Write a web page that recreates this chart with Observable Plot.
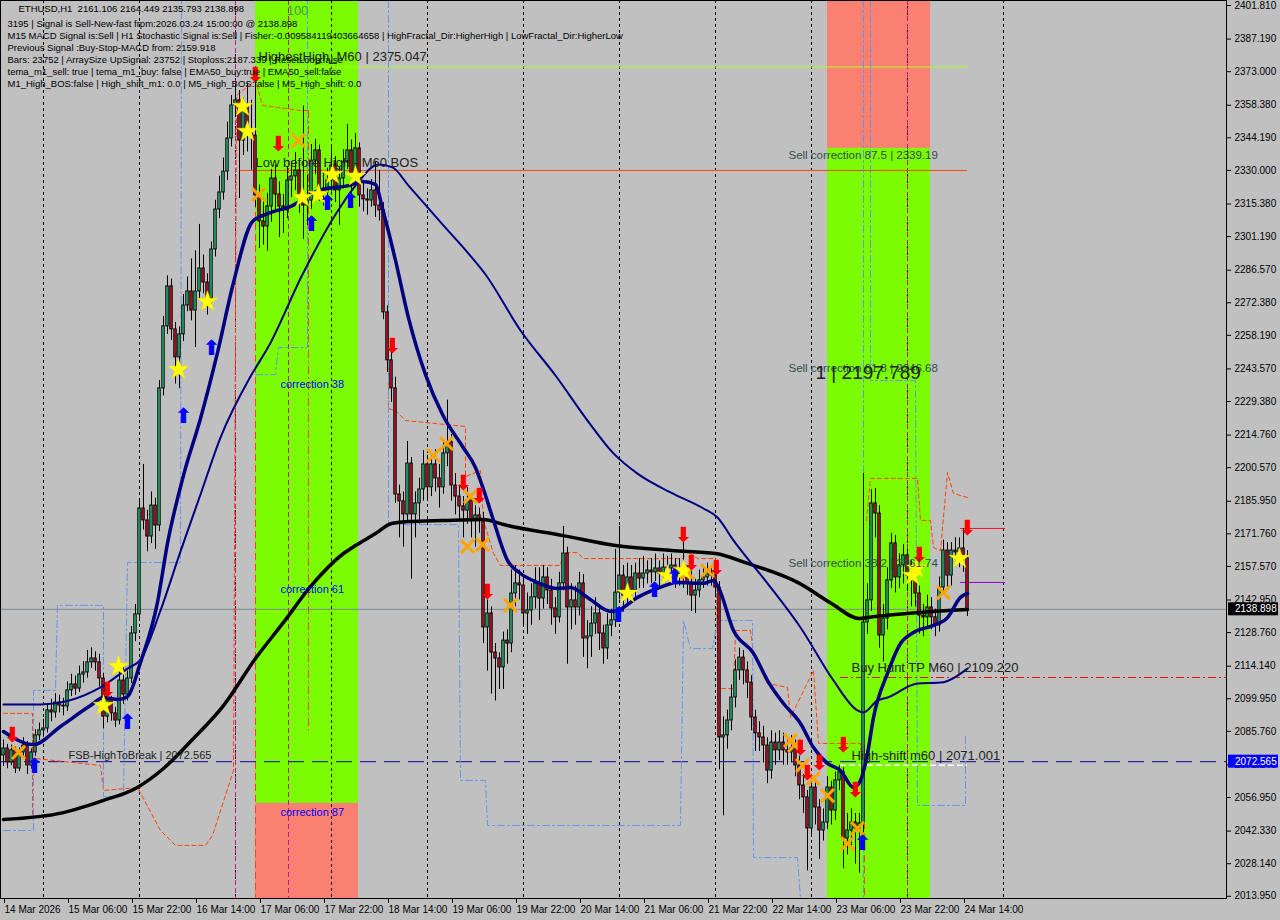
<!DOCTYPE html>
<html><head><meta charset="utf-8">
<script src="https://cdn.jsdelivr.net/npm/d3@7"></script>
<script src="https://cdn.jsdelivr.net/npm/@observablehq/plot@0.6"></script>
<style>
html,body{margin:0;padding:0;background:#c0c0c0;}
#chart{width:1280px;height:920px;overflow:hidden;}
</style></head><body><div id="chart"></div>
<script>
// ---------- DATA ----------
const firstBar = "2026-03-14T14:00:00Z";   // H1 bars, one per hour
const firstOpen = 2075.3;
const closes = [
2078.3,2072.2,2077.5,2069.6,2076.6,2079.6,2070.9,2076.6,2084.0,2086.2,
2087.0,2094.9,2094.0,2098.3,2097.0,2096.6,2103.6,2106.2,2104.4,2110.5,
2111.4,2115.8,2117.5,2115.8,2108.8,2092.2,2099.2,2093.6,2090.5,2107.9,
2101.8,2108.8,2128.4,2136.7,2182.8,2177.6,2170.6,2184.1,2175.4,2235.1,
2262.1,2279.5,2260.8,2248.6,2258.6,2271.2,2277.3,2269.0,2277.3,2287.3,
2281.2,2274.3,2295.6,2313.0,2320.4,2329.5,2343.9,2358.3,2360.5,2343.0,
2358.3,2347.4,2345.2,2319.1,2307.8,2305.6,2314.3,2326.5,2319.5,2314.3,
2312.6,2325.6,2327.4,2330.0,2318.2,2314.7,2316.9,2334.3,2338.7,2321.7,
2320.4,2325.6,2332.2,2321.3,2326.5,2333.5,2338.7,2327.4,2339.6,2319.1,
2317.4,2316.9,2321.3,2314.7,2312.6,2268.2,2247.3,2235.1,2188.9,2185.9,
2180.2,2202.4,2180.2,2185.0,2191.1,2202.0,2192.0,2202.0,2195.9,2192.0,
2206.8,2211.6,2192.8,2188.0,2183.7,2181.9,2186.3,2177.6,2179.8,2177.6,
2131.0,2137.1,2120.1,2117.5,2113.6,2125.3,2124.0,2145.8,2150.2,2149.3,
2137.1,2138.4,2144.1,2150.2,2143.6,2152.8,2147.1,2139.3,2135.4,2150.2,
2163.2,2139.7,2142.8,2139.7,2150.2,2126.2,2127.1,2132.7,2137.1,2128.4,
2121.9,2131.9,2134.1,2146.2,2153.6,2144.9,2152.8,2147.1,2154.5,2152.3,
2154.5,2155.8,2155.0,2156.7,2154.5,2157.1,2156.7,2158.0,2152.8,2155.8,
2152.8,2150.2,2144.9,2147.1,2151.5,2152.8,2154.5,2153.6,2148.4,2083.1,
2084.0,2090.5,2100.5,2112.3,2117.9,2112.3,2107.0,2091.8,2084.9,2083.1,
2079.6,2068.7,2080.9,2077.5,2080.9,2077.5,2076.6,2078.3,2070.9,2062.2,
2057.0,2043.5,2061.3,2052.6,2042.6,2046.1,2061.3,2051.3,2064.4,2067.9,
2039.1,2042.6,2046.1,2043.5,2045.7,2133.2,2142.8,2185.0,2180.6,2127.5,
2134.9,2151.5,2167.6,2152.8,2158.0,2162.4,2153.6,2151.5,2145.8,2136.2,
2135.4,2139.7,2135.4,2131.9,2148.4,2164.5,2153.6,2164.5,2163.7,2165.4,
2161.106,2138.898];
const highs = [
2082.0,2080.1,2079.8,2078.9,2078.6,2083.0,2081.4,2078.2,2086.5,2089.4,
2091.0,2097.7,2099.8,2102.2,2101.5,2100.2,2107.3,2110.6,2109.8,2114.2,
2116.1,2121.0,2122.1,2120.4,2119.3,2111.0,2103.4,2101.0,2096.2,2111.8,
2113.6,2112.0,2131.4,2141.0,2187.0,2202.0,2182.0,2190.0,2187.3,2238.5,
2266.4,2284.1,2282.7,2263.8,2261.9,2276.0,2283.6,2291.5,2295.0,2306.5,
2293.2,2285.0,2298.8,2317.0,2327.5,2335.4,2351.0,2362.6,2367.3,2364.8,
2361.5,2368.0,2360.5,2375.047,2323.6,2318.0,2320.0,2330.4,2332.2,2325.0,
2319.5,2331.5,2333.8,2337.8,2334.0,2358.0,2328.0,2341.3,2343.5,2341.0,
2328.8,2331.0,2340.0,2336.1,2331.5,2339.0,2350.0,2343.2,2346.0,2342.0,
2325.0,2322.0,2326.0,2334.0,2330.0,2316.0,2271.0,2251.0,2240.0,2193.0,
2190.0,2212.0,2205.0,2190.0,2196.0,2208.0,2206.0,2207.0,2208.5,2202.0,
2212.0,2230.0,2215.0,2198.0,2193.0,2188.0,2192.0,2189.0,2184.0,2183.0,
2181.0,2143.0,2140.0,2124.0,2120.0,2129.0,2130.0,2156.0,2158.0,2156.0,
2153.0,2146.0,2150.0,2157.0,2157.0,2158.0,2157.0,2152.0,2144.0,2155.0,
2175.0,2166.0,2150.0,2149.0,2155.0,2154.0,2134.0,2140.0,2144.0,2141.0,
2132.0,2137.0,2139.0,2165.0,2175.0,2158.0,2159.0,2158.0,2159.0,2161.0,
2162.0,2160.0,2161.0,2163.0,2160.0,2163.0,2162.0,2163.0,2161.0,2161.0,
2168.0,2158.0,2156.0,2152.0,2156.0,2158.0,2159.0,2158.0,2157.0,2151.0,
2092.0,2095.0,2106.0,2117.0,2122.0,2121.0,2116.0,2110.0,2095.0,2090.0,
2088.0,2083.0,2086.0,2085.0,2086.0,2085.0,2083.0,2084.0,2082.0,2075.0,
2067.0,2060.0,2066.0,2064.0,2056.0,2052.0,2066.0,2064.0,2068.0,2071.0,
2070.0,2050.0,2052.0,2050.0,2050.0,2198.0,2150.0,2191.0,2191.5,2184.0,
2141.0,2157.0,2172.0,2171.0,2163.0,2167.0,2165.0,2160.0,2155.0,2149.0,
2141.0,2145.0,2144.0,2139.0,2153.0,2169.0,2168.0,2168.0,2170.0,2170.0,
2174.0,2164.449];
const lows = [
2070.5,2069.5,2070.8,2067.4,2068.2,2074.8,2067.0,2069.3,2074.9,2081.7,
2083.2,2085.1,2089.9,2091.6,2093.8,2092.5,2094.4,2100.9,2101.5,2102.7,
2106.8,2108.9,2113.2,2112.0,2105.1,2086.9,2089.5,2090.2,2087.4,2088.6,
2097.5,2099.0,2106.6,2124.8,2134.5,2173.4,2164.0,2167.5,2165.0,2172.8,
2231.8,2258.6,2256.0,2237.0,2235.0,2255.5,2268.5,2264.5,2252.9,2273.8,
2276.3,2267.0,2271.5,2292.3,2309.0,2317.1,2325.6,2340.2,2353.0,2317.8,
2336.5,2338.0,2330.0,2314.0,2296.0,2297.5,2294.8,2307.5,2313.0,2300.8,
2302.6,2309.0,2318.2,2321.3,2311.3,2300.0,2306.0,2313.0,2328.2,2316.5,
2314.5,2315.2,2320.6,2316.0,2306.0,2322.0,2330.5,2320.0,2325.0,2314.0,
2312.0,2310.5,2314.0,2309.5,2308.0,2265.0,2242.0,2229.0,2185.0,2170.0,
2166.0,2177.0,2152.0,2170.0,2176.0,2186.0,2186.0,2188.0,2190.0,2183.0,
2189.0,2201.0,2186.0,2180.0,2177.0,2170.0,2176.0,2170.0,2166.0,2172.0,
2124.0,2112.0,2102.0,2099.0,2104.0,2104.0,2115.0,2120.0,2140.0,2143.0,
2131.0,2128.0,2132.0,2139.0,2134.0,2139.0,2141.0,2132.0,2128.0,2133.0,
2147.0,2115.0,2130.0,2132.0,2136.0,2118.0,2113.0,2118.0,2128.0,2121.0,
2115.0,2117.0,2127.0,2131.0,2143.0,2138.0,2141.0,2142.0,2144.0,2148.0,
2148.0,2150.0,2150.0,2151.0,2149.0,2151.0,2152.0,2152.0,2148.0,2149.0,
2148.0,2145.0,2138.0,2137.0,2144.0,2148.0,2149.0,2149.0,2144.0,2069.0,
2049.0,2078.0,2086.0,2096.0,2108.0,2106.0,2100.0,2086.0,2077.0,2077.0,
2072.0,2063.0,2065.0,2071.0,2073.0,2071.0,2071.0,2072.0,2066.0,2056.0,
2050.0,2025.0,2040.0,2045.0,2030.0,2038.0,2043.0,2045.0,2047.0,2060.0,
2026.0,2032.0,2036.0,2028.0,2024.0,2041.0,2128.0,2138.0,2170.0,2122.0,
2116.0,2130.0,2148.0,2146.0,2148.0,2150.0,2147.0,2140.0,2140.0,2128.0,
2127.0,2131.0,2130.0,2127.0,2129.0,2145.0,2148.0,2149.0,2158.0,2157.0,
2155.0,2135.793];

// moving averages: [bar index, price]
const maSlow = [[0,2047.4],[15,2050.4],[25,2055.7],[33,2060.9],[40,2069.6],[47,2081.8],[55,2097.0],[63,2117.5],[70,2133.2],[77,2149.3],[85,2163.2],[88,2166.7],[93,2171.9],[97,2176.3],[101,2177.1],[110,2177.6],[120,2178.0],[125,2175.8],[140,2171.0],[153,2166.7],[167,2164.5],[178,2163.2],[186,2158.9],[199,2150.2],[207,2141.4],[214,2134.9],[218,2135.8],[226,2137.1],[241,2138.8]];
const maMid = [[0,2097.5],[9.25,2097.5],[24.25,2104.9],[31,2113.1],[34.25,2117.0],[39.25,2138.4],[44.25,2164.1],[49.25,2188.9],[54.25,2213.7],[61.75,2240.3],[66.25,2253.3],[74.75,2284.7],[83,2310.8],[88,2323.4],[93.75,2332.6],[97.25,2331.3],[101.25,2323.4],[109.75,2306.5],[116.25,2293.8],[120.5,2284.7],[129.25,2260.3],[138,2240.7],[146,2221.1],[152.5,2206.8],[158.5,2198.0],[166.75,2189.8],[175,2182.8],[178.5,2178.9],[182.5,2168.9],[191,2150.2],[199.25,2131.0],[207.5,2107.9],[213.5,2094.9],[215,2094.0],[218.5,2099.2],[221,2100.5],[228.5,2106.6],[234.25,2107.0],[241,2113.1]];
const maFast = [[0,2085.7],[7.5,2080.0],[14.25,2087.9],[21.75,2097.0],[25,2100.5],[28.75,2099.6],[31,2100.9],[34.25,2115.8],[38.5,2141.9],[41,2167.6],[45,2197.2],[49.25,2222.0],[53.5,2250.7],[57.5,2281.2],[62.25,2307.8],[66.25,2311.3],[72.25,2314.7],[78.75,2321.3],[86.25,2323.4],[89.75,2325.2],[93,2323.9],[94.75,2313.4],[98,2290.8],[101.25,2265.8],[105.5,2241.1],[109.75,2223.7],[114.75,2209.8],[118,2200.6],[120,2191.1],[122.5,2177.6],[126,2160.2],[129.25,2154.5],[133.5,2150.6],[138.5,2148.0],[141.75,2148.4],[146,2144.1],[151.75,2138.0],[153.5,2138.4],[158.5,2144.1],[163.5,2148.0],[168.5,2150.6],[175,2150.2],[177.5,2151.5],[178.75,2148.4],[182.5,2129.7],[187.5,2119.7],[191,2107.9],[195,2097.9],[199.25,2089.2],[202.5,2078.7],[206,2071.8],[209.25,2068.7],[212.5,2061.3],[214.25,2064.4],[216,2076.1],[217.5,2091.8],[221,2111.0],[224.25,2124.0],[227.5,2128.8],[232.5,2131.9],[236,2135.3],[239.25,2144.1],[241,2145.8]];

// trailing step lines
const orangeSteps = [
 [[0,2093.6],[7.25,2093.6],[7.25,2048.3]],
 [[8.25,2073.9],[24.25,2070.9],[25,2060.0],[33.5,2061.3],[39.25,2042.6],[43,2036.1],[50.5,2036.1],[52.25,2040.4],[57.5,2068.7],[58.25,2362.6],[63,2369.2],[64.75,2358.3],[74.25,2356.1],[76.25,2356.1]],
 [[96.25,2269.0],[96.25,2226.3],[98,2225.5],[100.5,2221.1],[115.5,2218.5],[115.5,2196.7],[119.25,2199.3],[120,2177.6],[122.5,2163.2],[124.25,2158.0],[139.25,2158.0],[140,2163.6],[143.5,2163.6],[145,2161.0],[170,2161.0],[170.5,2164.5],[173.5,2161.0],[178,2161.0],[178.75,2104.4],[182.5,2104.4],[183,2129.7],[186.75,2129.7],[187.5,2119.7],[191,2106.6],[196,2104.9],[196.75,2091.8],[202.5,2112.3],[203.75,2080.5],[214.25,2080.5],[215,2052.6]],
 [[215.75,2177.6],[216.75,2195.9],[228.5,2195.9],[229.25,2177.6],[231.75,2177.6],[232.5,2165.8],[234.25,2164.5],[236,2198.5],[237.5,2189.3],[241,2187.6]]
];
const blueSteps = [
 [[0,2042.6],[7.5,2042.6],[7.5,2103.6],[13,2103.6],[13.5,2140.6],[25,2140.6],[25,2057.4],[30,2057.4],[31,2159.3],[44.25,2159.3],[44.5,2404]],
 [[63,2241.1],[68,2241.1],[68.75,2252.9],[76,2252.9],[76,2404]],
 [[96.25,2404],[96.25,2175.8],[113.75,2175.8],[114.25,2064.4],[120.5,2064.4],[121,2044.8],[169.25,2044.8],[170,2134.0],[171.75,2121.8],[177.25,2121.8],[178.5,2134.0],[187.25,2134.0],[187.5,2030.8],[198.5,2030.8],[199.25,2013.0]],
 [[215,2404],[215,2013]],
 [[216.75,2404],[216.75,2238.5],[228,2238.5],[228.5,2053.5],[240.5,2053.5],[240.5,2084.0]]
];

// signal markers [bar index, price]
const stars = [[59.75,2357.8],[61,2346.9],[43.75,2243.3],[51,2272.9],[28.75,2114.0],[25,2097.0],[74.75,2318.2],[78.75,2319.5],[82.25,2328.2],[88,2327.4],[156,2145.8],[166,2153.6],[170,2155.8],[227.25,2153.6],[228.25,2156.7],[239,2161.0]];
const crosses = [[3.75,2076.6],[63.75,2319.5],[73.75,2343.0],[107.5,2205.9],[110.75,2211.1],[116.75,2188.0],[116,2166.3],[119.75,2167.1],[126.75,2140.6],[171,2154.9],[176,2155.8],[196.75,2081.8],[197.75,2079.6],[199.75,2070.9],[202.5,2065.2],[206,2057.8],[211,2036.9],[213.5,2043.5],[235,2146.2]];
const sellArrows = [[2.25,2084.0],[26,2103.6],[63,2371.3],[68.75,2341.3],[97.25,2253.3],[115,2193.7],[119,2188.0],[121,2146.2],[170,2171.0],[172,2158.9],[178.25,2156.7],[199.25,2078.3],[201,2067.4],[204,2071.8],[210,2079.6],[213,2060.0],[229,2162.3],[241,2174.1]];
const buyArrows = [[7.75,2070.5],[31,2089.6],[45,2222.9],[52,2252.5],[77,2306.5],[81,2315.6],[86.75,2316.5],[153.75,2136.2],[162.75,2147.1],[167.75,2152.7],[214.75,2036.9]];

// zones [from bar, to bar, split price]
const zoneBuy = [63, 88.75, 2054.4];
const zoneSell = [206, 231.75, 2339.6];

// levels
const highestHigh = 2375.047, lowBeforeHigh = 2330.0, buyHuntTP = 2109.22, highShift = 2071.001, fsbHigh = 2072.565, lastPrice = 2138.898;
const shortRed = 2174.1, shortPurple = 2150.6;

const yTicks = [2401.810,2387.190,2373.000,2358.380,2344.190,2330.000,2315.380,2301.190,2286.570,2272.380,2258.190,2243.570,2229.380,2214.760,2200.570,2185.950,2171.760,2157.570,2142.950,2128.760,2114.140,2099.950,2085.760,2071.140,2056.950,2042.330,2028.140,2013.950];
const xTickTimes = ["2026-03-14T14:00Z","2026-03-15T06:00Z","2026-03-15T22:00Z","2026-03-16T14:00Z","2026-03-17T06:00Z","2026-03-17T22:00Z","2026-03-18T14:00Z","2026-03-19T06:00Z","2026-03-19T22:00Z","2026-03-20T14:00Z","2026-03-21T06:00Z","2026-03-21T22:00Z","2026-03-22T14:00Z","2026-03-23T06:00Z","2026-03-23T22:00Z","2026-03-24T14:00Z"];
const xTickLabels = ["14 Mar 2026","15 Mar 06:00","15 Mar 22:00","16 Mar 14:00","17 Mar 06:00","17 Mar 22:00","18 Mar 14:00","19 Mar 06:00","19 Mar 22:00","20 Mar 14:00","21 Mar 06:00","21 Mar 22:00","22 Mar 14:00","23 Mar 06:00","23 Mar 22:00","24 Mar 14:00"];
const daySeparators = ["2026-03-15","2026-03-16","2026-03-17","2026-03-18","2026-03-19","2026-03-20","2026-03-21","2026-03-22","2026-03-23","2026-03-24","2026-03-25"];

const headerTitle = "ETHUSD,H1  2161.106 2164.449 2135.793 2138.898";
const headerLines = [
"3195 | Signal is Sell-New-fast frpm:2026.03.24 15:00:00 @ 2138.898",
"M15 MACD Signal is:Sell | H1 Stochastic Signal is:Sell | Fisher:-0.009584119403664658 | HighFractal_Dir:HigherHigh | LowFractal_Dir:HigherLow",
"Previous Signal :Buy-Stop-MACD from: 2159.918",
"Bars: 23752 | ArraySize UpSignal: 23752 | Stoploss:2187.339 | ResetLoop:false",
"tema_m1_sell: true | tema_m1_buy: false | EMA50_buy:true | EMA50_sell:false",
"M1_High_BOS:false | High_shift_m1: 0.0 | M5_High_BOS:false | M5_High_shift: 0.0"];

// ---------- BUILD ----------
const t0 = Date.parse(firstBar);
const T = i => new Date(t0 + i * 3600e3);
const bars = closes.map((c, i) => ({t: T(i), o: i === 0 ? firstOpen : closes[i - 1], h: highs[i], l: lows[i], c}));
const pts = arr => arr.map(([i, v]) => ({t: T(i), v}));
const labelMap = new Map(xTickTimes.map((s, k) => [Date.parse(s), xTickLabels[k]]));
const HALF = 0.3 * 3600e3;
const yTop = 2403.99, yBot = 2012.99;

const lineMarks = (sets, opts) => sets.map(s => Plot.line(pts(s), {x: "t", y: "v", ...opts}));
const txt = (i, v, s, opts) => Plot.text([s], {x: () => T(i), y: () => v, text: d => d, textAnchor: "start", ...opts});

const chart = Plot.plot({
  width: 1280, height: 920,
  marginLeft: 0, marginRight: 54, marginTop: 0, marginBottom: 22,
  style: {background: "#c0c0c0", fontFamily: "Liberation Sans, Arial, sans-serif", overflow: "visible"},
  x: {type: "utc", domain: [T(-0.75), T(305.75)], axis: null, label: null},
  y: {domain: [yBot, yTop], axis: null, label: null},
  marks: [
    // zones
    Plot.rect([zoneBuy], {x1: d => T(d[0]), x2: d => T(d[1]), y1: d => d[2], y2: yTop, fill: "#7cfc00"}),
    Plot.rect([zoneBuy], {x1: d => T(d[0]), x2: d => T(d[1]), y1: yBot, y2: d => d[2], fill: "#fa8072"}),
    Plot.rect([zoneSell], {x1: d => T(d[0]), x2: d => T(d[1]), y1: d => d[2], y2: yTop, fill: "#fa8072"}),
    Plot.rect([zoneSell], {x1: d => T(d[0]), x2: d => T(d[1]), y1: yBot, y2: d => d[2], fill: "#7cfc00"}),
    // day separators
    Plot.ruleX(daySeparators, {x: d => new Date(d + "T00:00Z"), stroke: "#000", strokeDasharray: "3,3", strokeWidth: 1}),
    // other verticals
    Plot.ruleX([58, 71.25, 226], {x: d => T(d), stroke: "#c71585", strokeDasharray: "5,3", strokeWidth: 1}),
    Plot.ruleX([[63, 2369.2, yBot], [215.25, 2079.6, yBot]], {x: d => T(d[0]), y1: d => d[1], y2: d => d[2], stroke: "#ff4500", strokeDasharray: "7,4"}),
    Plot.ruleX([[76.25, 2356.1, 2086.0]], {x: d => T(d[0]), y1: d => d[1], y2: d => d[2], stroke: "#ff4500", strokeDasharray: "8,3,2,3"}),
    // horizontal levels
    Plot.ruleY([lastPrice], {stroke: "#7a8896", strokeWidth: 1}),
    Plot.ruleY([fsbHigh], {stroke: "#0a0a9a", strokeDasharray: "16,8", strokeWidth: 1}),
    Plot.ruleY([highestHigh], {x1: T(63), x2: T(241), stroke: "#adff2f", strokeWidth: 1}),
    Plot.ruleY([lowBeforeHigh], {x1: T(59.25), x2: T(241), stroke: "#ff4500", strokeWidth: 1}),
    Plot.ruleY([buyHuntTP], {x1: T(209.25), x2: T(305.75), stroke: "#e01010", strokeDasharray: "8,3,2,3", strokeWidth: 1}),
    Plot.ruleY([highShift], {x1: T(209.25), x2: T(241), stroke: "#ffffff", strokeDasharray: "6,3", strokeWidth: 1.5}),
    Plot.ruleY([shortRed], {x1: T(239.25), x2: T(250.5), stroke: "#ff1030", strokeWidth: 1}),
    Plot.ruleY([shortPurple], {x1: T(239.25), x2: T(250.5), stroke: "#9400d3", strokeWidth: 1}),
    // step lines
    ...lineMarks(orangeSteps, {stroke: "#ff4500", strokeDasharray: "4,3", strokeWidth: 1}),
    ...lineMarks(blueSteps, {stroke: "#6495ed", strokeDasharray: "7,3,2,3", strokeWidth: 1}),
    // candles
    Plot.ruleX(bars, {x: "t", y1: "l", y2: "h", stroke: "#000", strokeWidth: 1}),
    Plot.rect(bars, {filter: d => d.c >= d.o, x1: d => new Date(+d.t - HALF), x2: d => new Date(+d.t + HALF), y1: "o", y2: "c", fill: "#2ec47a", stroke: "#000", strokeWidth: 1}),
    Plot.rect(bars, {filter: d => d.c < d.o, x1: d => new Date(+d.t - HALF), x2: d => new Date(+d.t + HALF), y1: "o", y2: "c", fill: "#d01a32", stroke: "#000", strokeWidth: 1}),
    // moving averages
    Plot.line(pts(maSlow), {x: "t", y: "v", stroke: "#000", strokeWidth: 3.5, curve: "monotone-x"}),
    Plot.line(pts(maMid), {x: "t", y: "v", stroke: "#000080", strokeWidth: 2, curve: "monotone-x"}),
    Plot.line(pts(maFast), {x: "t", y: "v", stroke: "#000080", strokeWidth: 3.5, curve: "monotone-x"}),
    // markers
    Plot.dot(pts(crosses), {x: "t", y: "v", symbol: "times", stroke: "#ffa500", strokeWidth: 3, r: 6}),
    Plot.dot(pts(stars), {x: "t", y: "v", symbol: "star", fill: "#ffff00", stroke: "#f0e000", strokeWidth: 0.5, r: 6.5}),
    Plot.text(pts(sellArrows), {x: "t", y: "v", text: () => "\u2B07", fill: "#ff0000", fontSize: 21, fontWeight: "bold", fontFamily: "DejaVu Sans"}),
    Plot.text(pts(buyArrows), {x: "t", y: "v", text: () => "\u2B06", fill: "#0000ff", fontSize: 21, fontWeight: "bold", fontFamily: "DejaVu Sans"}),
    // labels
    Plot.text(["100"], {x: () => T(73.5), y: () => 2399.6, text: d => d, fill: "#3f9f3f", fontSize: 13}),
    txt(69.25, 2236.8, "correction 38", {fill: "#0000ff", fontSize: 11}),
    txt(69.25, 2147.5, "correction 61", {fill: "#0000ff", fontSize: 11}),
    txt(69.25, 2050.4, "correction 87", {fill: "#0000ff", fontSize: 11}),
    txt(63.75, 2379.6, "HighestHigh_M60 | 2375.047", {fill: "#222", fontSize: 13}),
    txt(63, 2333.5, "Low before High - M60 BOS", {fill: "#222", fontSize: 13}),
    txt(196.25, 2336.5, "Sell correction 87.5 | 2339.19", {fill: "#2f4f4f", fontSize: 11.5}),
    txt(196.25, 2243.8, "Sell correction 61.8 | 2246.68", {fill: "#2f4f4f", fontSize: 11.5}),
    txt(196.25, 2158.9, "Sell correction 38.2 | 2161.74", {fill: "#2f4f4f", fontSize: 11.5}),
    txt(203, 2242.0, "1 | 2197.789", {fill: "#222", fontSize: 19}),
    txt(212, 2113.6, "Buy Hunt TP M60 | 2109.220", {fill: "#222", fontSize: 13}),
    txt(212, 2075.3, "High-shift m60 | 2071.001", {fill: "#222", fontSize: 13}),
    txt(16.25, 2075.3, "FSB-HighToBreak | 2072.565", {fill: "#222", fontSize: 11}),
    // header
    Plot.text([headerTitle], {frameAnchor: "top-left", dx: 18, dy: 4.5, lineAnchor: "top", textAnchor: "start", text: d => d, fontSize: 9.5, fill: "#000"}),
    Plot.text([headerLines.join("\n")], {frameAnchor: "top-left", dx: 7, dy: 17.5, lineAnchor: "top", textAnchor: "start", lineHeight: 1.27, text: d => d, fontSize: 9.5, fill: "#000"}),
    // axes
    Plot.axisY(yTicks, {anchor: "right", label: null, tickFormat: d => d.toFixed(3), tickSize: 4, tickPadding: 4, fontSize: 10, fill: "#000"}),
    Plot.axisX(xTickTimes.map(s => new Date(s)), {anchor: "bottom", label: null, tickFormat: d => labelMap.get(+d), textAnchor: "start", tickSize: 5, tickPadding: 2, fontSize: 10, fill: "#000", dx: 1}),
    Plot.frame({stroke: "#000"})
  ]
});

// current price / FSB price tags in the right margin
const ys = chart.scale("y");
const svg = d3.select(chart);
[[lastPrice, "#000000"], [fsbHigh, "#0000ff"]].forEach(([v, col]) => {
  const yy = ys.apply(v);
  svg.append("rect").attr("x", 1228).attr("y", yy - 6.5).attr("width", 50).attr("height", 13).attr("fill", col);
  svg.append("text").attr("x", 1235).attr("y", yy + 3.5).attr("fill", "#fff").attr("font-size", 10)
    .attr("text-anchor", "start")
    .attr("font-family", "Liberation Sans, Arial, sans-serif").text(v.toFixed(3));
});
document.getElementById("chart").appendChild(chart);
</script>
</body></html>
